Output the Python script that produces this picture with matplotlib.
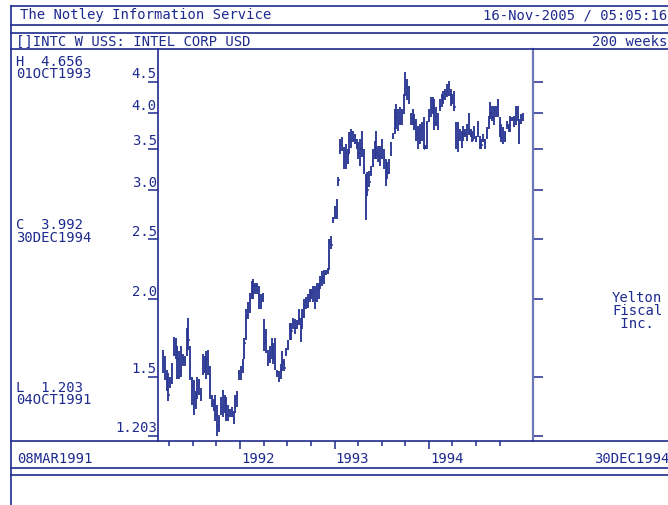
import numpy as np
import pandas as pd
import matplotlib
matplotlib.use("Agg")
import matplotlib.pyplot as plt
import matplotlib.dates as mdates
from matplotlib.lines import Line2D
from matplotlib.ticker import FixedLocator, NullLocator, NullFormatter

# %% data : INTC weekly, 08MAR1991 -> 30DEC1994 (200 weeks)
start_date = "1991-03-08"
n_weeks = 200

highs = [
    1.66, 1.62, 1.54, 1.52, 1.50, 1.58, 1.74, 1.73, 1.68, 1.65,
    1.68, 1.63, 1.62, 1.80, 1.87, 1.68, 1.50, 1.48, 1.42, 1.50,
    1.49, 1.44, 1.63, 1.62, 1.65, 1.66, 1.56, 1.40, 1.38, 1.40,
    1.35, 1.30, 1.39, 1.43, 1.40, 1.39, 1.35, 1.33, 1.34, 1.32,
    1.40, 1.42, 1.54, 1.56, 1.60, 1.73, 1.93, 1.98, 2.05, 2.14,
    2.16, 2.13, 2.13, 2.10, 2.04, 2.05, 1.86, 1.79, 1.66, 1.68,
    1.73, 1.70, 1.73, 1.54, 1.53, 1.57, 1.65, 1.60, 1.67, 1.72,
    1.83, 1.83, 1.87, 1.86, 1.85, 1.93, 1.87, 1.93, 2.00, 2.02,
    2.04, 2.08, 2.08, 2.10, 2.10, 2.13, 2.13, 2.18, 2.22, 2.23,
    2.23, 2.25, 2.50, 2.53, 2.72, 2.83, 2.91, 3.16, 3.64, 3.66,
    3.53, 3.56, 3.50, 3.73, 3.77, 3.75, 3.70, 3.63, 3.59, 3.63,
    3.74, 3.50, 3.19, 3.21, 3.23, 3.29, 3.50, 3.61, 3.74, 3.54,
    3.54, 3.63, 3.50, 3.37, 3.34, 3.37, 3.59, 3.72, 4.06, 4.14,
    4.06, 4.10, 4.06, 4.30, 4.656, 4.54, 4.42, 4.01, 4.06, 3.99,
    3.91, 3.81, 3.84, 3.87, 3.94, 3.55, 3.88, 4.06, 4.25, 4.25,
    4.22, 4.09, 4.01, 4.22, 4.30, 4.34, 4.38, 4.46, 4.51, 4.38,
    4.30, 4.35, 3.87, 3.87, 3.77, 3.74, 3.81, 3.77, 3.84, 4.01,
    3.77, 3.74, 3.81, 3.67, 3.88, 3.67, 3.63, 3.70, 3.63, 3.80,
    3.96, 4.17, 4.11, 4.11, 4.11, 4.22, 3.94, 3.84, 3.80, 3.74,
    3.88, 3.84, 3.96, 3.94, 3.96, 4.11, 4.11, 3.91, 3.99, 4.00,
]

lows = [
    1.52, 1.48, 1.42, 1.37, 1.44, 1.46, 1.62, 1.60, 1.49, 1.49,
    1.50, 1.56, 1.56, 1.62, 1.66, 1.48, 1.35, 1.30, 1.33, 1.38,
    1.40, 1.37, 1.51, 1.52, 1.49, 1.51, 1.38, 1.34, 1.32, 1.27,
    1.203, 1.22, 1.30, 1.29, 1.31, 1.27, 1.27, 1.29, 1.29, 1.26,
    1.31, 1.34, 1.48, 1.48, 1.52, 1.60, 1.72, 1.86, 1.90, 2.00,
    2.00, 2.04, 2.04, 1.93, 1.93, 1.98, 1.65, 1.64, 1.56, 1.58,
    1.60, 1.57, 1.54, 1.50, 1.47, 1.49, 1.53, 1.53, 1.62, 1.66,
    1.72, 1.72, 1.79, 1.76, 1.79, 1.82, 1.71, 1.79, 1.87, 1.93,
    1.94, 1.98, 2.00, 1.98, 1.93, 1.98, 2.00, 2.08, 2.10, 2.12,
    2.19, 2.20, 2.23, 2.41, 2.66, 2.70, 2.70, 3.05, 3.43, 3.47,
    3.25, 3.25, 3.31, 3.44, 3.52, 3.59, 3.57, 3.50, 3.37, 3.29,
    3.40, 3.19, 2.69, 2.94, 3.04, 3.17, 3.27, 3.37, 3.37, 3.34,
    3.29, 3.37, 3.25, 3.05, 3.13, 3.19, 3.41, 3.63, 3.70, 3.77,
    3.75, 3.83, 3.83, 3.99, 4.26, 4.20, 4.14, 3.83, 3.83, 3.76,
    3.60, 3.50, 3.57, 3.60, 3.50, 3.50, 3.50, 3.87, 3.94, 3.99,
    3.76, 3.81, 3.76, 4.03, 4.09, 4.14, 4.20, 4.25, 4.26, 4.11,
    4.14, 4.03, 3.50, 3.46, 3.60, 3.52, 3.60, 3.66, 3.60, 3.69,
    3.66, 3.59, 3.63, 3.59, 3.66, 3.50, 3.50, 3.59, 3.50, 3.63,
    3.77, 3.91, 3.89, 3.83, 3.94, 3.94, 3.66, 3.59, 3.57, 3.59,
    3.77, 3.73, 3.73, 3.88, 3.80, 3.83, 3.89, 3.57, 3.84, 3.89,
]

closes = [
    1.63, 1.55, 1.46, 1.40, 1.47, 1.55, 1.70, 1.68, 1.60, 1.53,
    1.62, 1.60, 1.59, 1.75, 1.72, 1.52, 1.45, 1.38, 1.40, 1.47,
    1.46, 1.40, 1.58, 1.56, 1.60, 1.55, 1.45, 1.36, 1.35, 1.30,
    1.25, 1.24, 1.34, 1.34, 1.38, 1.30, 1.32, 1.31, 1.31, 1.28,
    1.38, 1.40, 1.52, 1.53, 1.57, 1.70, 1.88, 1.92, 2.00, 2.08,
    2.10, 2.10, 2.07, 1.98, 2.00, 2.02, 1.70, 1.67, 1.60, 1.63,
    1.62, 1.60, 1.58, 1.52, 1.49, 1.52, 1.58, 1.55, 1.64, 1.70,
    1.76, 1.78, 1.83, 1.80, 1.82, 1.86, 1.76, 1.88, 1.95, 1.98,
    2.00, 2.03, 2.05, 2.06, 2.00, 2.08, 2.10, 2.15, 2.17, 2.20,
    2.22, 2.23, 2.48, 2.45, 2.70, 2.75, 2.88, 3.12, 3.55, 3.60,
    3.40, 3.45, 3.42, 3.60, 3.62, 3.62, 3.62, 3.55, 3.45, 3.50,
    3.50, 3.25, 2.87, 3.00, 3.10, 3.20, 3.30, 3.55, 3.45, 3.42,
    3.40, 3.50, 3.40, 3.15, 3.20, 3.25, 3.45, 3.66, 3.80, 3.95,
    3.85, 3.90, 4.00, 4.20, 4.45, 4.40, 4.20, 3.92, 3.90, 3.85,
    3.70, 3.65, 3.75, 3.80, 3.50, 3.52, 3.86, 3.95, 4.10, 4.05,
    3.85, 3.95, 3.80, 4.10, 4.20, 4.25, 4.30, 4.35, 4.45, 4.20,
    4.22, 4.10, 3.60, 3.65, 3.65, 3.60, 3.70, 3.72, 3.65, 3.75,
    3.70, 3.62, 3.70, 3.62, 3.72, 3.55, 3.55, 3.62, 3.58, 3.75,
    3.85, 4.00, 3.95, 4.05, 4.00, 4.00, 3.75, 3.65, 3.70, 3.70,
    3.82, 3.75, 3.90, 3.91, 3.90, 4.00, 3.95, 3.85, 3.90, 3.992,
]

price_ticks = [1.203, 1.5, 2.0, 2.5, 3.0, 3.5, 4.0, 4.5]
price_labels = ["1.203", "1.5", "2.0", "2.5", "3.0", "3.5", "4.0", "4.5"]
year_ticks = ["1992-01-01", "1993-01-01", "1994-01-01"]
year_labels = ["1992", "1993", "1994"]
quarter_ticks = ["1991-04-01", "1991-07-01", "1991-10-01",
                 "1992-04-01", "1992-07-01", "1992-10-01",
                 "1993-04-01", "1993-07-01", "1993-10-01",
                 "1994-04-01", "1994-07-01", "1994-10-01"]

# %% style
NAVY = "#1e2b8e"
BAR = "#2a3893"
LIGHT = "#6c76b8"
FONT = "DejaVu Sans Mono"
FS = 10
W, H = 668, 506

fig = plt.figure(figsize=(W / 100, H / 100), dpi=100)
fig.patch.set_facecolor("white")


def fx(px):
    return px / W


def fy(py):
    return 1 - py / H


def put(x, y, s, ha="left", color=NAVY):
    fig.text(fx(x), fy(y), s, ha=ha, va="center", fontsize=FS,
             family=FONT, color=color)


def hline(y, x0=11, x1=W):
    fig.add_artist(Line2D([fx(x0), fx(x1)], [fy(y), fy(y)],
                          transform=fig.transFigure, color=NAVY, lw=1.2))


# %% frame
for yy in [7, 25.5, 34, 50, 442, 469, 476]:
    hline(yy)
fig.add_artist(Line2D([fx(11), fx(11)], [fy(7), 0], transform=fig.transFigure,
                      color=NAVY, lw=1.2))

# %% chart
ax = fig.add_axes([fx(158), fy(442), fx(533) - fx(158), fy(50) - fy(442)])
ax.set_facecolor("white")

dates = pd.date_range(start_date, periods=n_weeks, freq="7D")
x = mdates.date2num(dates.to_pydatetime())
x0 = mdates.date2num(pd.Timestamp(start_date).to_pydatetime())

ax.vlines(x, lows, highs, color=BAR, lw=1.35)
ax.hlines(closes, x, x + 5, color=BAR, lw=1.1)

ax.set_yscale("log")
ax.set_ylim(1.181, 5.079)
ax.set_xlim(x0 - 2.76 * 7, x0 + 204.5 * 7)

ax.yaxis.set_major_locator(FixedLocator(price_ticks))
ax.yaxis.set_minor_locator(NullLocator())
ax.yaxis.set_major_formatter(NullFormatter())
ax.yaxis.set_minor_formatter(NullFormatter())
ax.tick_params(axis="y", which="major", direction="out", length=7.5,
               width=1.1, color=NAVY, left=True, right=True,
               labelleft=False, labelright=False)

yr = mdates.date2num(pd.to_datetime(year_ticks).to_pydatetime())
qt = mdates.date2num(pd.to_datetime(quarter_ticks).to_pydatetime())
ax.xaxis.set_major_locator(FixedLocator(yr))
ax.xaxis.set_minor_locator(FixedLocator(qt))
ax.xaxis.set_major_formatter(NullFormatter())
ax.xaxis.set_minor_formatter(NullFormatter())
ax.tick_params(axis="x", which="major", direction="out", length=6,
               width=1.1, color=NAVY, top=False)
ax.tick_params(axis="x", which="minor", direction="out", length=3.5,
               width=1.1, color=NAVY, top=False)

for side in ["top", "bottom"]:
    ax.spines[side].set_visible(False)
ax.spines["left"].set_color(NAVY)
ax.spines["left"].set_linewidth(1.2)
ax.spines["right"].set_color(LIGHT)
ax.spines["right"].set_linewidth(1.6)

for v, lab in zip(price_ticks, price_labels):
    ax.text(-0.003, v * 1.006, lab, transform=ax.get_yaxis_transform(),
            ha="right", va="bottom", fontsize=FS, family=FONT, color=NAVY)

for v, lab in zip(yr, year_labels):
    ax.text(v + 3, -0.043, lab, transform=ax.get_xaxis_transform(),
            ha="left", va="center", fontsize=FS, family=FONT, color=NAVY)

# %% texts
put(20, 15.5, "The Notley Information Service")
put(667, 15.5, "16-Nov-2005 / 05:05:16", ha="right")
put(16, 42, "[]INTC W USS: INTEL CORP USD")
put(667, 42, "200 weeks", ha="right")

put(16, 61.5, "H  4.656")
put(16, 74.5, "01OCT1993")
put(16, 225.5, "C  3.992")
put(16, 238.5, "30DEC1994")
put(16, 387.5, "L  1.203")
put(16, 400.5, "04OCT1991")

put(17, 459, "08MAR1991")
put(594, 459, "30DEC1994")

put(612, 298, "Yelton")
put(612, 311, "Fiscal")
put(612, 324, " Inc.")

fig.savefig("out.png", dpi=100, facecolor="white")
